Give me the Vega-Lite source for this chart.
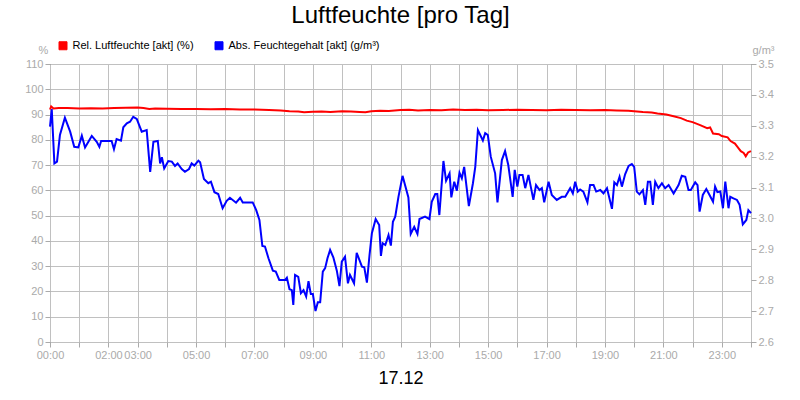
{
  "$schema": "https://vega.github.io/schema/vega-lite/v6.json",
  "width": 701,
  "height": 278,
  "autosize": {"type": "none"},
  "padding": {"left": 50, "top": 64, "right": 49, "bottom": 58},
  "background": "white",
  "title": {
    "text": "Luftfeuchte [pro Tag]",
    "font": "Liberation Sans",
    "fontSize": 24,
    "fontWeight": "normal",
    "color": "black",
    "anchor": "middle",
    "frame": "group",
    "baseline": "alphabetic",
    "offset": 15,
    "dy": 22
  },
  "datasets": {
    "rel": [
      {"zeit": 0.00, "wert": 92.0}, {"zeit": 0.04, "wert": 93.2}, {"zeit": 0.12, "wert": 92.4}, {"zeit": 0.3, "wert": 92.6},
      {"zeit": 0.6, "wert": 92.6}, {"zeit": 1.0, "wert": 92.4}, {"zeit": 1.4, "wert": 92.5}, {"zeit": 1.8, "wert": 92.4},
      {"zeit": 2.2, "wert": 92.6}, {"zeit": 2.6, "wert": 92.7}, {"zeit": 3.0, "wert": 92.8}, {"zeit": 3.2, "wert": 92.6},
      {"zeit": 3.4, "wert": 92.2}, {"zeit": 3.6, "wert": 92.4}, {"zeit": 4.0, "wert": 92.3}, {"zeit": 4.5, "wert": 92.2},
      {"zeit": 5.0, "wert": 92.2}, {"zeit": 5.5, "wert": 92.1}, {"zeit": 6.0, "wert": 92.2}, {"zeit": 6.5, "wert": 92.0},
      {"zeit": 7.0, "wert": 92.0}, {"zeit": 7.5, "wert": 91.8}, {"zeit": 7.9, "wert": 91.6}, {"zeit": 8.2, "wert": 91.3},
      {"zeit": 8.5, "wert": 91.2}, {"zeit": 8.7, "wert": 90.9}, {"zeit": 9.0, "wert": 91.1}, {"zeit": 9.3, "wert": 91.2},
      {"zeit": 9.6, "wert": 91.0}, {"zeit": 10.0, "wert": 91.3}, {"zeit": 10.3, "wert": 91.2}, {"zeit": 10.6, "wert": 91.0},
      {"zeit": 10.8, "wert": 90.9}, {"zeit": 11.0, "wert": 91.3}, {"zeit": 11.3, "wert": 91.5}, {"zeit": 11.6, "wert": 91.4},
      {"zeit": 12.0, "wert": 91.8}, {"zeit": 12.3, "wert": 91.9}, {"zeit": 12.6, "wert": 91.6}, {"zeit": 13.0, "wert": 91.8},
      {"zeit": 13.4, "wert": 91.7}, {"zeit": 13.8, "wert": 92.0}, {"zeit": 14.2, "wert": 91.8}, {"zeit": 14.6, "wert": 91.9},
      {"zeit": 15.0, "wert": 91.7}, {"zeit": 15.5, "wert": 91.8}, {"zeit": 16.0, "wert": 91.9}, {"zeit": 16.5, "wert": 91.8},
      {"zeit": 17.0, "wert": 91.7}, {"zeit": 17.5, "wert": 91.9}, {"zeit": 18.0, "wert": 91.8}, {"zeit": 18.5, "wert": 91.7},
      {"zeit": 19.0, "wert": 91.8}, {"zeit": 19.4, "wert": 91.6}, {"zeit": 19.8, "wert": 91.5}, {"zeit": 20.0, "wert": 91.3},
      {"zeit": 20.3, "wert": 91.0}, {"zeit": 20.6, "wert": 90.8}, {"zeit": 20.8, "wert": 90.4}, {"zeit": 21.1, "wert": 90.0},
      {"zeit": 21.35, "wert": 89.3}, {"zeit": 21.6, "wert": 88.6}, {"zeit": 21.8, "wert": 87.6}, {"zeit": 22.0, "wert": 87.0},
      {"zeit": 22.26, "wert": 85.8}, {"zeit": 22.5, "wert": 84.6}, {"zeit": 22.6, "wert": 84.9}, {"zeit": 22.7, "wert": 82.5},
      {"zeit": 22.9, "wert": 82.2}, {"zeit": 23.0, "wert": 81.5}, {"zeit": 23.2, "wert": 81.0}, {"zeit": 23.3, "wert": 79.5},
      {"zeit": 23.45, "wert": 78.5}, {"zeit": 23.55, "wert": 77.0}, {"zeit": 23.65, "wert": 75.5}, {"zeit": 23.75, "wert": 74.8},
      {"zeit": 23.82, "wert": 73.5}, {"zeit": 23.9, "wert": 75.0}, {"zeit": 24.0, "wert": 75.5}
    ],
    "abs": [
      {"zeit": 0.00, "wert": 3.297}, {"zeit": 0.06, "wert": 3.354}, {"zeit": 0.15, "wert": 3.178}, {"zeit": 0.24, "wert": 3.184},
      {"zeit": 0.34, "wert": 3.270}, {"zeit": 0.51, "wert": 3.326}, {"zeit": 0.69, "wert": 3.281}, {"zeit": 0.83, "wert": 3.232},
      {"zeit": 0.97, "wert": 3.230}, {"zeit": 1.09, "wert": 3.268}, {"zeit": 1.20, "wert": 3.230}, {"zeit": 1.43, "wert": 3.267},
      {"zeit": 1.60, "wert": 3.248}, {"zeit": 1.69, "wert": 3.232}, {"zeit": 1.75, "wert": 3.251}, {"zeit": 2.11, "wert": 3.251},
      {"zeit": 2.19, "wert": 3.224}, {"zeit": 2.28, "wert": 3.257}, {"zeit": 2.43, "wert": 3.252}, {"zeit": 2.51, "wert": 3.295},
      {"zeit": 2.63, "wert": 3.308}, {"zeit": 2.74, "wert": 3.313}, {"zeit": 2.85, "wert": 3.329}, {"zeit": 2.97, "wert": 3.322},
      {"zeit": 3.14, "wert": 3.281}, {"zeit": 3.31, "wert": 3.286}, {"zeit": 3.43, "wert": 3.151}, {"zeit": 3.54, "wert": 3.248},
      {"zeit": 3.69, "wert": 3.251}, {"zeit": 3.77, "wert": 3.178}, {"zeit": 3.83, "wert": 3.198}, {"zeit": 3.91, "wert": 3.162},
      {"zeit": 4.05, "wert": 3.186}, {"zeit": 4.17, "wert": 3.184}, {"zeit": 4.28, "wert": 3.170}, {"zeit": 4.37, "wert": 3.178},
      {"zeit": 4.51, "wert": 3.160}, {"zeit": 4.62, "wert": 3.151}, {"zeit": 4.76, "wert": 3.160}, {"zeit": 4.85, "wert": 3.178},
      {"zeit": 4.94, "wert": 3.171}, {"zeit": 5.08, "wert": 3.187}, {"zeit": 5.14, "wert": 3.182}, {"zeit": 5.27, "wert": 3.128},
      {"zeit": 5.42, "wert": 3.114}, {"zeit": 5.51, "wert": 3.119}, {"zeit": 5.63, "wert": 3.085}, {"zeit": 5.76, "wert": 3.079},
      {"zeit": 5.91, "wert": 3.033}, {"zeit": 6.05, "wert": 3.057}, {"zeit": 6.16, "wert": 3.067}, {"zeit": 6.37, "wert": 3.051},
      {"zeit": 6.51, "wert": 3.067}, {"zeit": 6.60, "wert": 3.052}, {"zeit": 6.94, "wert": 3.052}, {"zeit": 7.06, "wert": 3.027},
      {"zeit": 7.17, "wert": 2.995}, {"zeit": 7.27, "wert": 2.911}, {"zeit": 7.36, "wert": 2.909}, {"zeit": 7.48, "wert": 2.871},
      {"zeit": 7.63, "wert": 2.831}, {"zeit": 7.73, "wert": 2.828}, {"zeit": 7.85, "wert": 2.801}, {"zeit": 8.05, "wert": 2.801},
      {"zeit": 8.11, "wert": 2.808}, {"zeit": 8.20, "wert": 2.771}, {"zeit": 8.28, "wert": 2.768}, {"zeit": 8.33, "wert": 2.720},
      {"zeit": 8.39, "wert": 2.817}, {"zeit": 8.50, "wert": 2.811}, {"zeit": 8.59, "wert": 2.758}, {"zeit": 8.68, "wert": 2.768},
      {"zeit": 8.77, "wert": 2.747}, {"zeit": 8.85, "wert": 2.797}, {"zeit": 8.93, "wert": 2.755}, {"zeit": 9.00, "wert": 2.755},
      {"zeit": 9.09, "wert": 2.700}, {"zeit": 9.17, "wert": 2.729}, {"zeit": 9.25, "wert": 2.729}, {"zeit": 9.34, "wert": 2.828},
      {"zeit": 9.42, "wert": 2.839}, {"zeit": 9.50, "wert": 2.871}, {"zeit": 9.59, "wert": 2.898}, {"zeit": 9.70, "wert": 2.874},
      {"zeit": 9.82, "wert": 2.831}, {"zeit": 9.91, "wert": 2.781}, {"zeit": 9.99, "wert": 2.860}, {"zeit": 10.10, "wert": 2.876},
      {"zeit": 10.20, "wert": 2.790}, {"zeit": 10.27, "wert": 2.817}, {"zeit": 10.41, "wert": 2.790}, {"zeit": 10.50, "wert": 2.889},
      {"zeit": 10.68, "wert": 2.844}, {"zeit": 10.76, "wert": 2.842}, {"zeit": 10.85, "wert": 2.792}, {"zeit": 10.94, "wert": 2.882},
      {"zeit": 11.02, "wert": 2.952}, {"zeit": 11.15, "wert": 2.998}, {"zeit": 11.27, "wert": 2.979}, {"zeit": 11.33, "wert": 2.879},
      {"zeit": 11.39, "wert": 2.920}, {"zeit": 11.48, "wert": 2.914}, {"zeit": 11.59, "wert": 2.946}, {"zeit": 11.67, "wert": 2.912},
      {"zeit": 11.74, "wert": 2.989}, {"zeit": 11.82, "wert": 3.006}, {"zeit": 11.93, "wert": 3.070}, {"zeit": 12.07, "wert": 3.138},
      {"zeit": 12.27, "wert": 3.068}, {"zeit": 12.35, "wert": 2.950}, {"zeit": 12.47, "wert": 2.973}, {"zeit": 12.58, "wert": 2.950},
      {"zeit": 12.65, "wert": 2.998}, {"zeit": 12.84, "wert": 3.006}, {"zeit": 12.99, "wert": 2.998}, {"zeit": 13.07, "wert": 3.054},
      {"zeit": 13.19, "wert": 3.079}, {"zeit": 13.26, "wert": 3.079}, {"zeit": 13.33, "wert": 3.011}, {"zeit": 13.47, "wert": 3.186},
      {"zeit": 13.56, "wert": 3.122}, {"zeit": 13.68, "wert": 3.146}, {"zeit": 13.74, "wert": 3.068}, {"zeit": 13.84, "wert": 3.119},
      {"zeit": 13.93, "wert": 3.090}, {"zeit": 14.02, "wert": 3.148}, {"zeit": 14.10, "wert": 3.130}, {"zeit": 14.18, "wert": 3.167},
      {"zeit": 14.34, "wert": 3.040}, {"zeit": 14.48, "wert": 3.114}, {"zeit": 14.56, "wert": 3.167}, {"zeit": 14.65, "wert": 3.286},
      {"zeit": 14.73, "wert": 3.270}, {"zeit": 14.82, "wert": 3.252}, {"zeit": 14.90, "wert": 3.276}, {"zeit": 14.99, "wert": 3.270},
      {"zeit": 15.09, "wert": 3.200}, {"zeit": 15.24, "wert": 3.146}, {"zeit": 15.32, "wert": 3.052}, {"zeit": 15.47, "wert": 3.189},
      {"zeit": 15.58, "wert": 3.218}, {"zeit": 15.69, "wert": 3.173}, {"zeit": 15.84, "wert": 3.070}, {"zeit": 15.91, "wert": 3.157},
      {"zeit": 16.00, "wert": 3.103}, {"zeit": 16.07, "wert": 3.141}, {"zeit": 16.18, "wert": 3.141}, {"zeit": 16.27, "wert": 3.098},
      {"zeit": 16.38, "wert": 3.141}, {"zeit": 16.55, "wert": 3.060}, {"zeit": 16.64, "wert": 3.108}, {"zeit": 16.76, "wert": 3.092},
      {"zeit": 16.84, "wert": 3.098}, {"zeit": 16.92, "wert": 3.052}, {"zeit": 17.07, "wert": 3.119}, {"zeit": 17.18, "wert": 3.076},
      {"zeit": 17.35, "wert": 3.060}, {"zeit": 17.52, "wert": 3.070}, {"zeit": 17.64, "wert": 3.070}, {"zeit": 17.81, "wert": 3.098},
      {"zeit": 17.90, "wert": 3.081}, {"zeit": 17.98, "wert": 3.119}, {"zeit": 18.07, "wert": 3.087}, {"zeit": 18.15, "wert": 3.094},
      {"zeit": 18.26, "wert": 3.087}, {"zeit": 18.40, "wert": 3.052}, {"zeit": 18.49, "wert": 3.108}, {"zeit": 18.61, "wert": 3.108},
      {"zeit": 18.70, "wert": 3.087}, {"zeit": 18.84, "wert": 3.092}, {"zeit": 18.95, "wert": 3.081}, {"zeit": 19.07, "wert": 3.098},
      {"zeit": 19.24, "wert": 3.031}, {"zeit": 19.32, "wert": 3.117}, {"zeit": 19.41, "wert": 3.108}, {"zeit": 19.50, "wert": 3.135},
      {"zeit": 19.58, "wert": 3.103}, {"zeit": 19.69, "wert": 3.143}, {"zeit": 19.81, "wert": 3.170}, {"zeit": 19.92, "wert": 3.176},
      {"zeit": 20.00, "wert": 3.167}, {"zeit": 20.09, "wert": 3.087}, {"zeit": 20.18, "wert": 3.078}, {"zeit": 20.30, "wert": 3.092},
      {"zeit": 20.38, "wert": 3.044}, {"zeit": 20.47, "wert": 3.119}, {"zeit": 20.55, "wert": 3.119}, {"zeit": 20.64, "wert": 3.044},
      {"zeit": 20.72, "wert": 3.119}, {"zeit": 20.83, "wert": 3.098}, {"zeit": 20.95, "wert": 3.114}, {"zeit": 21.06, "wert": 3.098},
      {"zeit": 21.18, "wert": 3.108}, {"zeit": 21.35, "wert": 3.081}, {"zeit": 21.52, "wert": 3.108}, {"zeit": 21.63, "wert": 3.138},
      {"zeit": 21.75, "wert": 3.135}, {"zeit": 21.86, "wert": 3.092}, {"zeit": 21.94, "wert": 3.092}, {"zeit": 22.09, "wert": 3.117},
      {"zeit": 22.17, "wert": 3.108}, {"zeit": 22.24, "wert": 3.022}, {"zeit": 22.35, "wert": 3.076}, {"zeit": 22.47, "wert": 3.095},
      {"zeit": 22.58, "wert": 3.076}, {"zeit": 22.70, "wert": 3.054}, {"zeit": 22.77, "wert": 3.103}, {"zeit": 22.85, "wert": 3.085},
      {"zeit": 22.95, "wert": 3.087}, {"zeit": 23.04, "wert": 3.033}, {"zeit": 23.12, "wert": 3.119}, {"zeit": 23.23, "wert": 3.033},
      {"zeit": 23.29, "wert": 3.070}, {"zeit": 23.40, "wert": 3.065}, {"zeit": 23.52, "wert": 3.060}, {"zeit": 23.61, "wert": 3.044},
      {"zeit": 23.72, "wert": 2.981}, {"zeit": 23.84, "wert": 2.995}, {"zeit": 23.91, "wert": 3.027}, {"zeit": 24.00, "wert": 3.017}
    ]
  },
  "encoding": {
    "x": {
      "field": "zeit",
      "type": "quantitative",
      "scale": {"domain": [0, 24], "nice": false, "zero": false},
      "axis": {
        "values": [0,1,2,3,4,5,6,7,8,9,10,11,12,13,14,15,16,17,18,19,20,21,22,23,24],
        "labelExpr": "indexof([0,2,3,5,7,9,11,13,15,17,19,21,23], datum.value) >= 0 ? (datum.value < 10 ? '0' : '') + datum.value + ':00' : ''",
        "labelOverlap": false,
        "labelFlush": false,
        "grid": true,
        "title": "17.12",
        "titleFontSize": 18,
        "titleColor": "black",
        "titleFontWeight": "normal",
        "titlePadding": 9
      }
    }
  },
  "layer": [
    {
      "data": {"name": "abs"},
      "mark": {"type": "line", "strokeWidth": 2, "interpolate": "linear"},
      "encoding": {
        "y": {
          "field": "wert",
          "type": "quantitative",
          "scale": {"domain": [2.6, 3.5], "nice": false, "zero": false},
          "axis": {
            "orient": "right",
            "values": [2.6, 2.7, 2.8, 2.9, 3.0, 3.1, 3.2, 3.3, 3.4, 3.5],
            "format": ".1f",
            "grid": false,
            "title": "g/m³",
            "titleAngle": 0,
            "titleAlign": "center",
            "titleBaseline": "alphabetic",
            "titleX": 12,
            "titleY": -11
          }
        },
        "color": {
          "datum": "Abs. Feuchtegehalt [akt] (g/m³)",
          "scale": {
            "domain": ["Rel. Luftfeuchte [akt] (%)", "Abs. Feuchtegehalt [akt] (g/m³)"],
            "range": ["#ff0000", "#0000ff"]
          },
          "legend": {
            "title": null,
            "orient": "none",
            "direction": "horizontal",
            "legendX": 7.5,
            "legendY": -24,
            "symbolType": "square",
            "symbolSize": 64,
            "columnPadding": 18,
            "labelOffset": 4,
            "padding": 0,
            "encode": {
              "symbols": {
                "update": {
                  "fill": {"scale": "color", "field": "value"},
                  "stroke": {"value": "black"},
                  "strokeWidth": {"value": 1},
                  "opacity": {"value": 1}
                }
              }
            }
          }
        }
      }
    },
    {
      "data": {"name": "rel"},
      "mark": {"type": "line", "strokeWidth": 2, "interpolate": "linear"},
      "encoding": {
        "y": {
          "field": "wert",
          "type": "quantitative",
          "scale": {"domain": [0, 110], "nice": false},
          "axis": {
            "orient": "left",
            "values": [0, 10, 20, 30, 40, 50, 60, 70, 80, 90, 100, 110],
            "grid": true,
            "title": "%",
            "titleAngle": 0,
            "titleAlign": "center",
            "titleBaseline": "alphabetic",
            "titleX": -7,
            "titleY": -11
          }
        },
        "color": {"datum": "Rel. Luftfeuchte [akt] (%)"}
      }
    }
  ],
  "resolve": {"scale": {"y": "independent"}},
  "config": {
    "font": "Liberation Sans",
    "view": {"stroke": "#000000", "strokeWidth": 1},
    "axis": {
      "domain": false,
      "labelFont": "Liberation Sans",
      "labelFontSize": 11,
      "labelColor": "#aaaaaa",
      "tickColor": "#aaaaaa",
      "tickSize": 5,
      "labelPadding": 2,
      "gridColor": "#c0c0c0",
      "gridWidth": 1,
      "gridOpacity": 1,
      "titleFont": "Liberation Sans",
      "titleFontSize": 11,
      "titleColor": "#aaaaaa",
      "titleFontWeight": "normal"
    },
    "legend": {
      "labelFont": "Liberation Sans",
      "labelFontSize": 11,
      "labelColor": "black"
    }
  }
}
